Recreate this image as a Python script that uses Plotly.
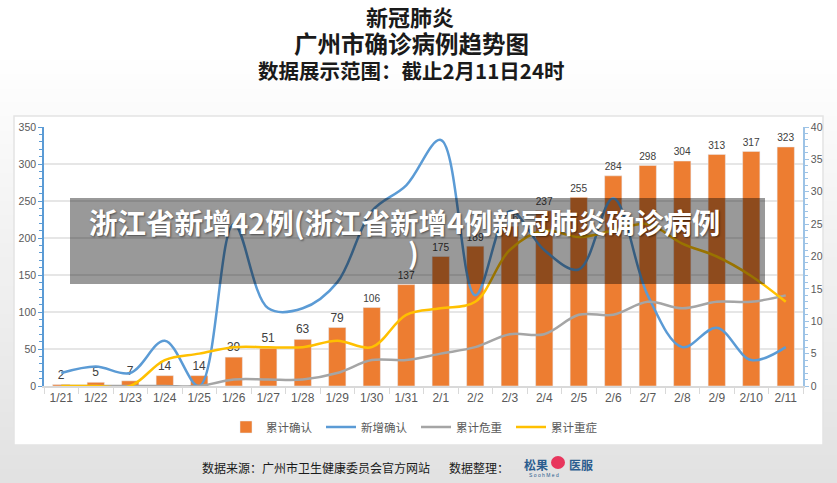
import plotly.graph_objects as go

# 数据
dates = ["1/21", "1/22", "1/23", "1/24", "1/25", "1/26", "1/27", "1/28", "1/29", "1/30", "1/31",
         "2/1", "2/2", "2/3", "2/4", "2/5", "2/6", "2/7", "2/8", "2/9", "2/10", "2/11"]
total_confirmed = [2, 5, 7, 14, 14, 39, 51, 63, 79, 106, 137, 175, 189, 216, 237, 255, 284, 298, 304, 313, 317, 323]
new_confirmed = [2, 3, 2, 7, 0, 25, 12, 12, 16, 27, 31, 38, 14, 27, 21, 18, 29, 14, 6, 9, 4, 6]
total_critical = [0, 0, 0, 0, 0, 1, 1, 1, 2, 4, 4, 5, 6, 8, 8, 11, 11, 13, 12, 13, 13, 14]
total_severe = [0, 0, 0, 4, 5, 6, 6, 6, 7, 6, 11, 12, 13, 21, 24, 23, 24, 25, 22, 20, 17, 13]

W, H = 837, 483
L, R, T, B = 44, 803, 127, 386  # 绘图区像素边界


def fx(px):
    return (px - L) / (R - L)


def fy(py):
    return (B - py) / (B - T)


FONT = "Liberation Sans, Arial, Noto Sans CJK SC"
CJK = "Noto Sans CJK SC"

fig = go.Figure()
fig.add_trace(go.Bar(x=dates, y=total_confirmed, name="累计确认", marker_color="#ED7D31",
                     text=total_confirmed, textposition="outside", cliponaxis=False,
                     textfont=dict(size=12, color="#404040", family=FONT)))
fig.add_trace(go.Scatter(x=dates, y=new_confirmed, name="新增确认", yaxis="y2", mode="lines",
                         line=dict(color="#5B9BD5", width=2.5, shape="spline", smoothing=1)))
fig.add_trace(go.Scatter(x=dates, y=total_critical, name="累计危重", yaxis="y2", mode="lines",
                         line=dict(color="#A5A5A5", width=2.5, shape="spline", smoothing=1)))
fig.add_trace(go.Scatter(x=dates, y=total_severe, name="累计重症", yaxis="y2", mode="lines",
                         line=dict(color="#FFC000", width=2.5, shape="spline", smoothing=1)))

shapes = []
# 背景渐变
n = 30
for i in range(n):
    y0 = 60 + (H - 60) * i / n
    y1 = 60 + (H - 60) * (i + 1) / n + 1
    g = int(255 - 29 * (i + 0.5) / n)
    shapes.append(dict(type="rect", xref="paper", yref="paper", layer="below",
                       x0=fx(0), x1=fx(W), y0=fy(y1), y1=fy(y0),
                       fillcolor=f"rgb({g},{g},{g})", line_width=0))
# 白色面板
shapes.append(dict(type="rect", xref="paper", yref="paper", layer="below",
                   x0=fx(14), x1=fx(823), y0=fy(445), y1=fy(116),
                   fillcolor="white", line=dict(color="#e4e4e4", width=1.5)))
# 半透明水印条
shapes.append(dict(type="rect", xref="paper", yref="paper", layer="above",
                   x0=fx(70), x1=fx(765), y0=fy(284), y1=fy(198),
                   fillcolor="rgba(0,0,0,0.4)", line_width=0))
# logo 圆点
shapes.append(dict(type="circle", xref="paper", yref="paper", layer="above",
                   x0=fx(551), x1=fx(565), y0=fy(469), y1=fy(456),
                   fillcolor="#e8365d", line_width=0))

annotations = [
    dict(text="<b>新冠肺炎</b>", x=fx(410), y=fy(16), font=dict(size=22, color="#1a1a1a", family=CJK)),
    dict(text="<b>广州市确诊病例趋势图</b>", x=fx(411), y=fy(43), font=dict(size=23.5, color="#1a1a1a", family=CJK)),
    dict(text="<b>数据展示范围：截止2月11日24时</b>", x=fx(411), y=fy(70), font=dict(size=20.5, color="#1a1a1a", family=CJK)),
    dict(text="<b>浙江省新增42例(浙江省新增4例新冠肺炎确诊病例</b>", x=fx(404), y=fy(221),
         font=dict(size=28.5, color="white", family=CJK, shadow="1px 1px 2px rgba(0,0,0,0.5)")),
    dict(text="<b>)</b>", x=fx(413), y=fy(251),
         font=dict(size=28.5, color="white", family=CJK, shadow="1px 1px 2px rgba(0,0,0,0.5)")),
    dict(text="数据来源：广州市卫生健康委员会官方网站", x=fx(200), y=fy(467), xanchor="left",
         font=dict(size=12, color="#1a1a1a", family=CJK)),
    dict(text="数据整理：", x=fx(447), y=fy(467), xanchor="left",
         font=dict(size=12, color="#1a1a1a", family=CJK)),
    dict(text="<b>松果</b>", x=fx(550), y=fy(464), xanchor="right",
         font=dict(size=12, color="#2b5d8f", family=CJK)),
    dict(text="<b>医服</b>", x=fx(567), y=fy(464), xanchor="left",
         font=dict(size=12, color="#2b5d8f", family=CJK)),
    dict(text="S o o h M e d", x=fx(527), y=fy(475), xanchor="left",
         font=dict(size=5, color="#2b5d8f", family=FONT)),
]
for a in annotations:
    a.update(xref="paper", yref="paper", showarrow=False, yanchor=a.get("yanchor", "middle"))

fig.update_layout(
    width=W, height=H,
    margin=dict(l=L, r=W - R, t=T, b=H - B),
    paper_bgcolor="white", plot_bgcolor="rgba(0,0,0,0)",
    bargap=0.5,
    font=dict(family=FONT, color="#595959"),
    shapes=shapes, annotations=annotations,
    showlegend=True,
    legend=dict(orientation="h", x=fx(226), xanchor="left", y=fy(427), yanchor="middle",
                font=dict(size=11.5, color="#595959", family=CJK), itemwidth=30,
                entrywidth=50, entrywidthmode="pixels",
                bgcolor="rgba(0,0,0,0)", traceorder="normal"),
    xaxis=dict(type="category", showgrid=False, showline=True, linecolor="#d9d9d9", linewidth=1.5,
               ticks="outside", tickson="boundaries", ticklen=6, tickcolor="#d9d9d9",
               tickfont=dict(size=12, color="#595959"), fixedrange=True),
    yaxis=dict(range=[0, 350], dtick=50, showgrid=True, gridcolor="#e6e6e6", gridwidth=1.5,
               zeroline=False, showline=True, linecolor="#5B9BD5", linewidth=1.5,
               ticks="outside", ticklen=4, tickcolor="#5B9BD5",
               minor=dict(dtick=10, ticks="outside", ticklen=3, tickcolor="#5B9BD5", showgrid=False),
               tickfont=dict(size=10.5, color="#595959")),
    yaxis2=dict(range=[0, 40], dtick=5, overlaying="y", side="right", showgrid=False,
                zeroline=False, showline=True, linecolor="#9DC3E6", linewidth=1.5,
                ticks="outside", ticklen=4, tickcolor="#9DC3E6",
                minor=dict(dtick=1, ticks="outside", ticklen=3, tickcolor="#9DC3E6", showgrid=False),
                tickfont=dict(size=10.5, color="#595959")),
)

# 去掉页面默认边距，使图正好占满窗口
fig.write_html("out.html", config={"displayModeBar": False},
               post_script="document.body.style.margin='0';document.body.style.overflow='hidden';")
